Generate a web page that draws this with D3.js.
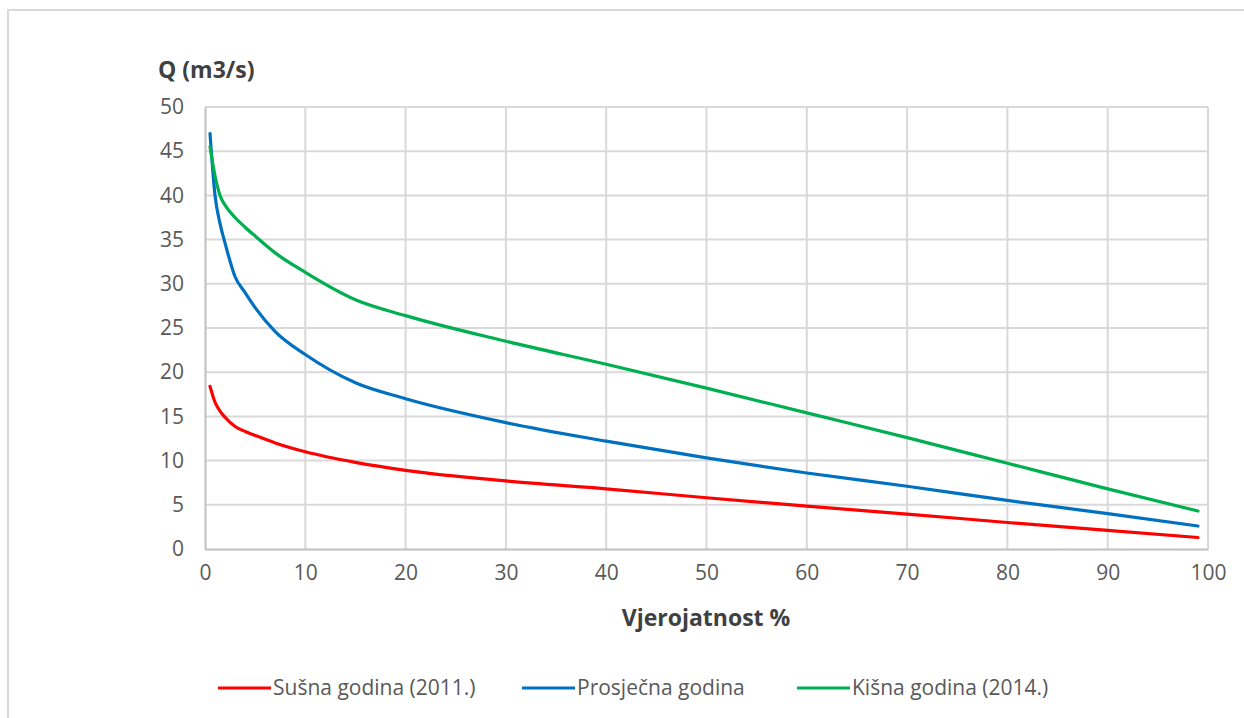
<!DOCTYPE html>
<html><head><meta charset="utf-8">
<script src="https://cdn.jsdelivr.net/npm/d3@7"></script>
<style>body{margin:0;background:#fff}svg{display:block}</style>
</head><body><svg id="c" width="1244" height="718"></svg>
<script>
const probability = [0.5, 1, 1.5, 2, 3, 4, 5, 7, 10, 15, 20, 30, 40, 50, 60, 70, 80, 90, 99];
const susna     = [18.4, 16.6, 15.6, 14.9, 13.85, 13.3, 12.85, 12.0, 11.0, 9.8, 8.9, 7.7, 6.8, 5.8, 4.85, 3.95, 3.0, 2.1, 1.3];
const prosjecna = [47.0, 40.0, 36.8, 34.6, 30.8, 29.0, 27.3, 24.6, 22.0, 18.8, 17.0, 14.3, 12.2, 10.3, 8.6, 7.1, 5.5, 4.0, 2.6];
const kisna     = [45.5, 42.2, 40.0, 38.9, 37.5, 36.4, 35.4, 33.5, 31.3, 28.2, 26.4, 23.5, 20.9, 18.2, 15.4, 12.6, 9.7, 6.8, 4.3];
const seriesNames = ["Sušna godina (2011.)", "Prosječna godina", "Kišna godina (2014.)"];
const seriesColors = ["#ff0000", "#0070c0", "#00b050"];
const xTicks = [0,10,20,30,40,50,60,70,80,90,100];
const yTicks = [0,5,10,15,20,25,30,35,40,45,50];
const yTitle = "Q (m3/s)";
const xTitle = "Vjerojatnost %";

const svg = d3.select("#c");
const font = "'Open Sans', sans-serif";
// outer frame
svg.append("rect").attr("x",8).attr("y",10).attr("width",1300).attr("height",800)
  .attr("fill","none").attr("stroke","#d9d9d9").attr("stroke-width",2);

const x = d3.scaleLinear().domain([0,100]).range([205,1208]);
const y = d3.scaleLinear().domain([0,50]).range([549,107]);

const g = svg.append("g");
// gridlines
g.selectAll(".hg").data(yTicks.filter(d=>d>0)).join("line")
  .attr("x1",x(0)).attr("x2",x(100)).attr("y1",d=>y(d)).attr("y2",d=>y(d))
  .attr("stroke","#d9d9d9").attr("stroke-width",2);
g.selectAll(".vg").data(xTicks.filter(d=>d>0)).join("line")
  .attr("x1",d=>x(d)).attr("x2",d=>x(d)).attr("y1",y(0)).attr("y2",y(50))
  .attr("stroke","#d9d9d9").attr("stroke-width",2);
// axes
const xa = svg.append("g").attr("transform",`translate(0,${y(0)})`)
  .call(d3.axisBottom(x).tickValues(xTicks).tickSize(0).tickPadding(24));
const ya = svg.append("g").attr("transform",`translate(${x(0)},0)`)
  .call(d3.axisLeft(y).tickValues(yTicks).tickSize(0).tickPadding(21));
[xa,ya].forEach(a=>{
  a.select(".domain").attr("stroke","#bfbfbf").attr("stroke-width",2);
  a.selectAll("text").attr("fill","#595959").style("font-family",font).style("font-size","21px");
});
xa.selectAll("text").attr("dy","0.35em");

// lines
const line = d3.line().x(d=>x(d[0])).y(d=>y(d[1])).curve(d3.curveMonotoneX);
[susna, prosjecna, kisna].forEach((s,i)=>{
  svg.append("path").datum(probability.map((p,j)=>[p,s[j]]))
    .attr("d",line).attr("fill","none").attr("stroke",seriesColors[i])
    .attr("stroke-width",3.2).attr("stroke-linecap","round");
});

// titles
svg.append("text").attr("x",158).attr("y",78).text(yTitle)
  .attr("fill","#404040").style("font-family",font).style("font-size","23px").style("font-weight","bold");
svg.append("text").attr("x",706).attr("y",626).attr("text-anchor","middle").text(xTitle)
  .attr("fill","#404040").style("font-family",font).style("font-size","23px").style("font-weight","bold");

// legend
const legX = [218, 522, 797];
seriesNames.forEach((n,i)=>{
  svg.append("line").attr("x1",legX[i]).attr("x2",legX[i]+53).attr("y1",688).attr("y2",688)
    .attr("stroke",seriesColors[i]).attr("stroke-width",3.2);
  svg.append("text").attr("x",legX[i]+55).attr("y",688).attr("dy","0.35em").text(n)
    .attr("fill","#595959").style("font-family",font).style("font-size","21px");
});
</script></body></html>
